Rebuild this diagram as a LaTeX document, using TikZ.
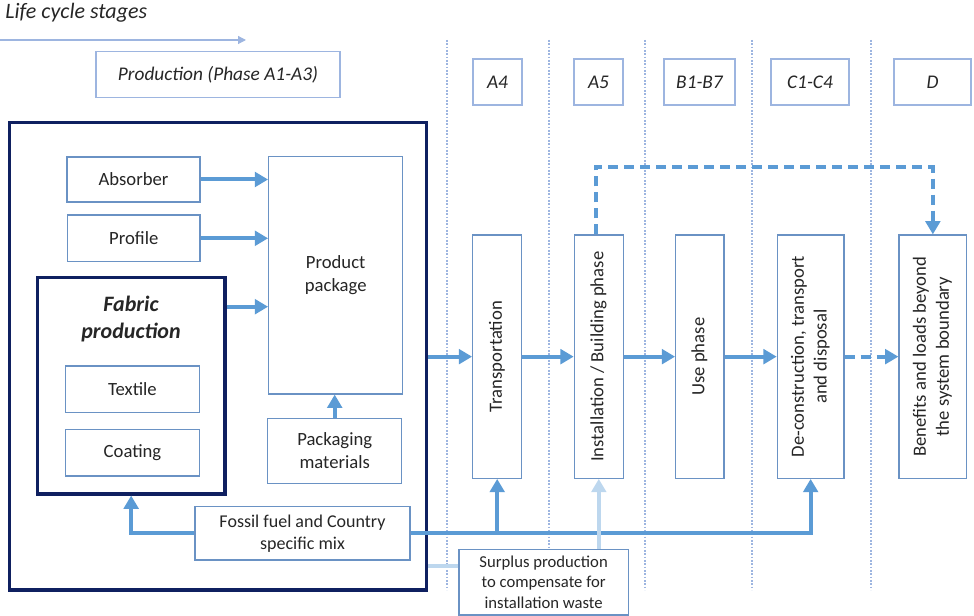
\documentclass[tikz,border=0pt]{standalone}
\usepackage{fontspec}
\setmainfont{Carlito}
\usetikzlibrary{arrows.meta,calc}
\definecolor{arr}{HTML}{5B9BD5}
\definecolor{lightarr}{HTML}{BDD7EE}
\definecolor{bord}{HTML}{6A92C4}
\definecolor{hdr}{HTML}{9DB5E0}
\definecolor{navy}{HTML}{0F2060}
\definecolor{txt}{HTML}{262626}
\newcommand{\vtext}[1]{\rotatebox{90}{\begin{tabular}{@{}c@{}}#1\end{tabular}}}
\begin{document}
\begin{tikzpicture}[x=0.75pt,y=-0.75pt,
  every node/.style={inner sep=0pt, text=txt, font=\fontsize{14}{17.2}\selectfont},
  bx/.style 2 args={draw=bord, fill=white, line width=0.9pt, minimum width=#1*0.75pt, minimum height=#2*0.75pt, align=center},
  hbox/.style 2 args={draw=hdr, fill=white, line width=0.9pt, minimum width=#1*0.75pt, minimum height=#2*0.75pt, align=center, font=\fontsize{14.5}{17.5}\selectfont\itshape},
  navybox/.style 2 args={draw=navy, line width=2.3pt, minimum width=#1*0.75pt, minimum height=#2*0.75pt},
  flow/.style={draw=arr, line width=3pt, -{Triangle[length=10pt,width=11pt]}},
  dflow/.style={flow, dash pattern=on 7.5pt off 4.5pt},
  lflow/.style={draw=lightarr, line width=3pt, -{Triangle[length=10pt,width=11pt]}},
  lline/.style={draw=lightarr, line width=3pt},
  dotline/.style={draw=hdr, line width=0.8pt, dash pattern=on 1.2pt off 1.3pt},
  lcarrow/.style={draw=hdr, line width=0.9pt, -{Triangle[length=6pt,width=6pt]}}
]
\useasboundingbox (0,0) rectangle (974,616);

% phase separators
\foreach \x in {447,549,645,752,871} \draw[dotline] (\x,40) -- (\x,590);

% life cycle header
\node[anchor=west, font=\fontsize{16.5}{19}\selectfont\itshape] (lcs) at (5,13) {Life cycle stages};
\coordinate (lc0) at (0,40);
\coordinate (lc1) at (246,40);
\draw[lcarrow] (lc0) -- (lc1);

\node[hbox={244}{46}] (hprod) at (218,74.7) {Production (Phase A1-A3)};
\node[hbox={49}{46}] (ha4) at (497.5,82) {A4};
\node[hbox={49}{46}] (ha5) at (598.5,82) {A5};
\node[hbox={71}{46}] (hb) at (699.5,82) {B1-B7};
\node[hbox={78}{46}] (hc) at (810,82) {C1-C4};
\node[hbox={77}{46}] (hd) at (932.5,82) {D};

% production system
\node[navybox={417.4}{467.3}, fill=white] (big) at (218,356.35) {};
\node[bx={133}{45}] (abs) at (133.5,179.5) {Absorber};
\node[bx={132.3}{46.7}] (prof) at (133.8,238.3) {Profile};
\node[navybox={187.7}{216.3}] (fab) at (131.15,385.85) {};
\node[align=center, font=\fontsize{16.5}{20.5}\selectfont\bfseries\itshape] (fabt) at (131,319) {Fabric\\production};
\node[bx={133.6}{46.3}] (tex) at (132.5,389.15) {Textile};
\node[bx={133.6}{46.7}] (coat) at (132.5,452.65) {Coating};
\node[bx={134}{237.3}] (pp) at (335.7,275.35) {Product\\package};
\node[bx={134}{65}] (pack) at (334.7,450.8) {Packaging\\materials};
\node[bx={215}{53.3}, font=\fontsize{13.5}{16.7}\selectfont] (fo) at (302.5,533.35) {Fossil fuel and Country\\specific mix};
\node[bx={169.3}{65.7}, font=\fontsize{12.5}{15.4}\selectfont] (su) at (543.65,582.15) {Surplus production\\to compensate for\\installation waste};

% life cycle stages
\node[bx={49}{243.3}] (tr) at (497.2,356.65) {\vtext{Transportation}};
\node[bx={49}{243.3}] (ins) at (598.8,356.65) {\vtext{Installation / Building phase}};
\node[bx={48.3}{243.3}] (use) at (699.85,356.65) {\vtext{Use phase}};
\node[bx={66.7}{243.3}] (de) at (810.65,356.65) {\vtext{De-construction, transport\\and disposal}};
\node[bx={67.7}{243.3}] (ben) at (932.85,356.65) {\vtext{Benefits and loads beyond\\the system boundary}};

% internal arrows
\draw[flow] (abs.east) -- (abs.east -| pp.west);
\draw[flow] (prof.east) -- (prof.east -| pp.west);
\draw[flow] (fab.east |- 0,306.7) -- (pp.west |- 0,306.7);
\draw[flow] (pack.north) -- (pack.north |- pp.south);

% main flow
\draw[flow] (tr.west -| big.east) -- (tr.west);
\draw[flow] (tr.east) -- (ins.west);
\draw[flow] (ins.east) -- (use.west);
\draw[flow] (use.east) -- (de.west);
\draw[dflow] (de.east) -- (ben.west);
\draw[dflow] ($(ins.north)+(-3,0)$) |- (ben.north |- 0,167) -- (ben.north);

% energy supply
\draw[flow] (fo.west) -| (fab.south);
\draw[flow] (fo.east) -| (de.south);
\draw[flow] (fo.east) -| (tr.south);

% surplus
\draw[lflow] (ins.south |- su.north) -- (ins.south);
\draw[lline] (su.west |- 0,566) -- (big.east |- 0,566);
\end{tikzpicture}
\end{document}
